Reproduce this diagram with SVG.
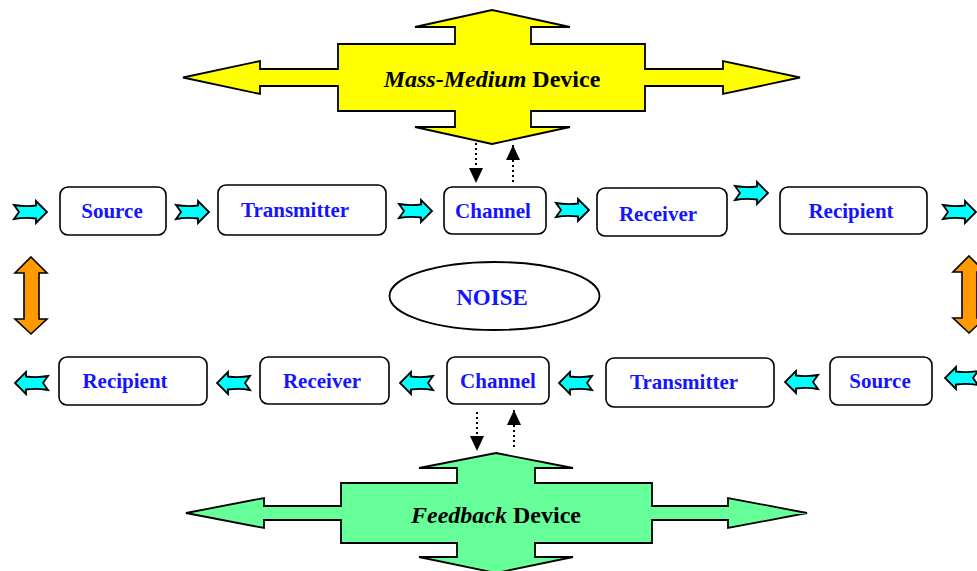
<svg xmlns="http://www.w3.org/2000/svg" width="977" height="571" viewBox="0 0 977 571">
<style>
.box{fill:#fff;stroke:#000;stroke-width:1.6}
.lbl{font-family:"Liberation Serif","Times New Roman",serif;font-weight:bold;font-size:21px;fill:#1414ff;text-anchor:middle}
.big{font-family:"Liberation Serif","Times New Roman",serif;font-weight:bold;font-size:24px;fill:#000;text-anchor:middle}
.blk{fill:#00ffff;stroke:#000;stroke-width:1.8;stroke-linejoin:miter}
.dot{stroke:#000;stroke-width:2;stroke-dasharray:2,3;fill:none}
.dbl{fill:#ff9900;stroke:#000;stroke-width:1.6}
</style>
<defs>
<path id="ra" d="M0,-7 Q11,-5 22,-6.5 L22,-11 L33,0 L22,11 L22,6.5 Q11,5 0,7 L5,0 Z"/>
<path id="la" d="M33,-7 Q22,-5 11,-6.5 L11,-11 L0,0 L11,11 L11,6.5 Q22,5 33,7 L28,0 Z"/>
<marker id="ah" viewBox="0 0 15 14" refX="15" refY="7" markerWidth="15" markerHeight="14" markerUnits="userSpaceOnUse" orient="auto">
<path d="M0,0 L15,7 L0,14 Z" fill="#000"/>
</marker>
</defs>

<g id="mass-medium-device">
<path d="M492,10 L570,27 L531,27 L531,44 L645,44 L645,69 L723,69 L723,61 L800,77.5 L723,94 L723,86 L645,86 L645,111 L531,111 L531,127 L570,127 L492,144 L415,127 L455,127 L455,111 L338,111 L338,86 L260,86 L260,94 L183,77.5 L260,61 L260,69 L338,69 L338,44 L455,44 L455,27 L415,27 Z" fill="#ffff00" stroke="#000" stroke-width="1.8"/>
<text class="big" x="492" y="87"><tspan font-style="italic">Mass-Medium</tspan> Device</text>
</g>

<g id="feedback-device">
<path d="M496,453 L573,468 L535,468 L535,483 L652,483 L652,506 L728,506 L728,498 L807,513 L728,528 L728,520 L652,520 L652,543 L535,543 L535,557 L573,557 L496,573 L419,557 L457,557 L457,543 L341,543 L341,520 L264,520 L264,528 L186,513 L264,498 L264,506 L341,506 L341,483 L457,483 L457,468 L419,468 Z" fill="#66ff99" stroke="#000" stroke-width="1.8"/>
<text class="big" x="496" y="523"><tspan font-style="italic">Feedback</tspan> Device</text>
</g>

<g id="noise">
<ellipse cx="494.5" cy="296" rx="105" ry="34" fill="#fff" stroke="#000" stroke-width="1.8"/>
<text class="lbl" x="492" y="305" style="font-size:23px">NOISE</text>
</g>

<g id="top-source"><rect class="box" x="60" y="187" width="106" height="48" rx="8"/><text class="lbl" x="112" y="218">Source</text></g>
<g id="top-transmitter"><rect class="box" x="218" y="185" width="168" height="50" rx="8"/><text class="lbl" x="295" y="217">Transmitter</text></g>
<g id="top-channel"><rect class="box" x="444" y="187" width="102" height="47" rx="8"/><text class="lbl" x="493" y="218">Channel</text></g>
<g id="top-receiver"><rect class="box" x="597" y="188" width="130" height="48" rx="8"/><text class="lbl" x="658" y="221">Receiver</text></g>
<g id="top-recipient"><rect class="box" x="780" y="187" width="147" height="47" rx="8"/><text class="lbl" x="851" y="218">Recipient</text></g>

<g id="bottom-recipient"><rect class="box" x="59" y="357" width="148" height="48" rx="8"/><text class="lbl" x="125" y="388">Recipient</text></g>
<g id="bottom-receiver"><rect class="box" x="260" y="357" width="129" height="47" rx="8"/><text class="lbl" x="322" y="388">Receiver</text></g>
<g id="bottom-channel"><rect class="box" x="447" y="357" width="102" height="47" rx="8"/><text class="lbl" x="498" y="388">Channel</text></g>
<g id="bottom-transmitter"><rect class="box" x="606" y="358" width="168" height="49" rx="8"/><text class="lbl" x="684" y="389">Transmitter</text></g>
<g id="bottom-source"><rect class="box" x="830" y="357" width="102" height="48" rx="8"/><text class="lbl" x="880" y="388">Source</text></g>

<g id="connectors">
<use href="#ra" class="blk" transform="translate(14,212)"/>
<use href="#ra" class="blk" transform="translate(176,212)"/>
<use href="#ra" class="blk" transform="translate(399,211)"/>
<use href="#ra" class="blk" transform="translate(556,210)"/>
<use href="#ra" class="blk" transform="translate(735,193)"/>
<use href="#ra" class="blk" transform="translate(943,212)"/>

<use href="#la" class="blk" transform="translate(15,383)"/>
<use href="#la" class="blk" transform="translate(217,383)"/>
<use href="#la" class="blk" transform="translate(400,383)"/>
<use href="#la" class="blk" transform="translate(559,383)"/>
<use href="#la" class="blk" transform="translate(785,382)"/>
<use href="#la" class="blk" transform="translate(945,378)"/>

<path class="dbl" d="M31,257 L47,273 L39,273 L39,319 L47,319 L31,334 L15,319 L24,319 L24,273 L15,273 Z"/>
<path class="dbl" d="M969,256 L985,272 L977,272 L977,318 L985,318 L969,333 L953,318 L962,318 L962,272 L953,272 Z"/>

<line class="dot" x1="476" y1="143" x2="476" y2="183" marker-end="url(#ah)"/>
<line class="dot" x1="513" y1="182" x2="513" y2="145" marker-end="url(#ah)"/>
<line class="dot" x1="477" y1="412" x2="477" y2="451" marker-end="url(#ah)"/>
<line class="dot" x1="514" y1="447" x2="514" y2="410" marker-end="url(#ah)"/>
</g>
</svg>
